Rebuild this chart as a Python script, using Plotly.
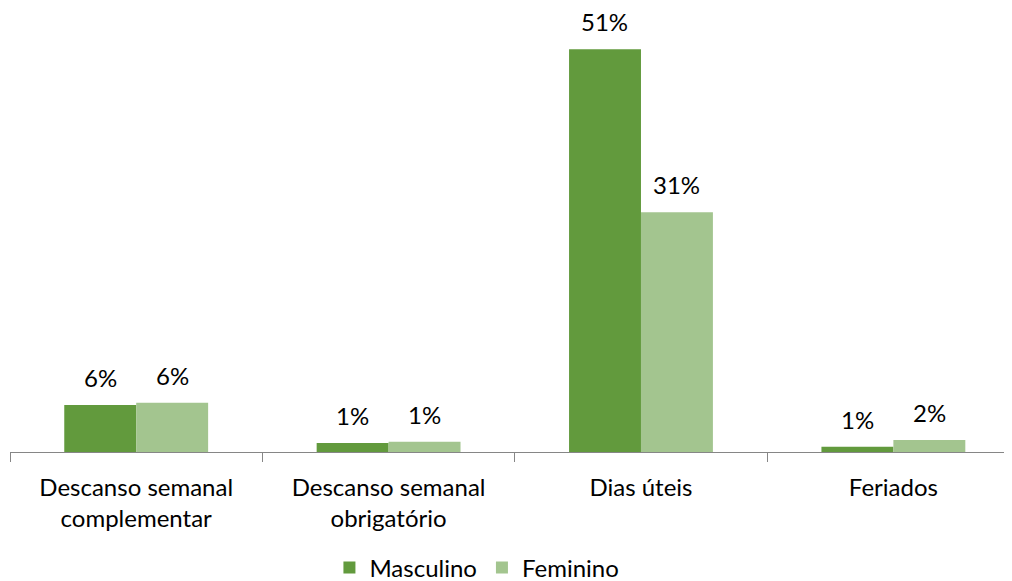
import plotly.graph_objects as go

categories = ["Descanso semanal<br>complementar", "Descanso semanal<br>obrigatório", "Dias úteis", "Feriados"]
masculino = [6.0, 1.15, 51.4, 0.67]
feminino = [6.3, 1.3, 30.6, 1.53]
series_names = ["Masculino", "Feminino"]
colors = ["#629A3D", "#A3C58F"]

FONT = "Lato"
FS = 24

fig = go.Figure()
for name, vals, col in zip(series_names, [masculino, feminino], colors):
    fig.add_trace(go.Bar(
        x=categories, y=vals, name=name,
        marker=dict(color=col, line=dict(width=0)),
    ))

# data labels
for i, cat in enumerate(categories):
    for vals, shift in ((masculino, -36), (feminino, 36)):
        fig.add_annotation(
            x=cat, y=vals[i], text=f"{round(vals[i])}%",
            showarrow=False, xshift=shift, yshift=11, yanchor="bottom",
            font=dict(family=FONT, size=FS, color="#000000"),
        )

# page body has an 8px default margin: size the figure to the visible area
fig.update_layout(
    width=1004, height=573,
    margin=dict(l=2, r=0, t=2, b=129, autoexpand=False),
    paper_bgcolor="white", plot_bgcolor="white",
    barmode="group", bargap=0.43, bargroupgap=0,
    font=dict(family=FONT, size=FS, color="#000000"),
    showlegend=True,
    legend=dict(orientation="h", x=0.466, xanchor="center", y=-0.262, yanchor="middle",
                font=dict(family=FONT, size=FS, color="#000000"),
                itemwidth=30, traceorder="normal"),
    xaxis=dict(
        range=[-0.5, 3.47], showline=True, linecolor="#868686", linewidth=1,
        ticks="outside", tickson="boundaries", ticklen=9, tickcolor="#868686",
        showgrid=False, tickfont=dict(family=FONT, size=FS, color="#000000"),
        automargin=False, ticklabelstandoff=14,
    ),
    yaxis=dict(range=[0, 56.4], visible=False, showgrid=False, zeroline=False, automargin=False),
)

fig.write_html("out.html")
